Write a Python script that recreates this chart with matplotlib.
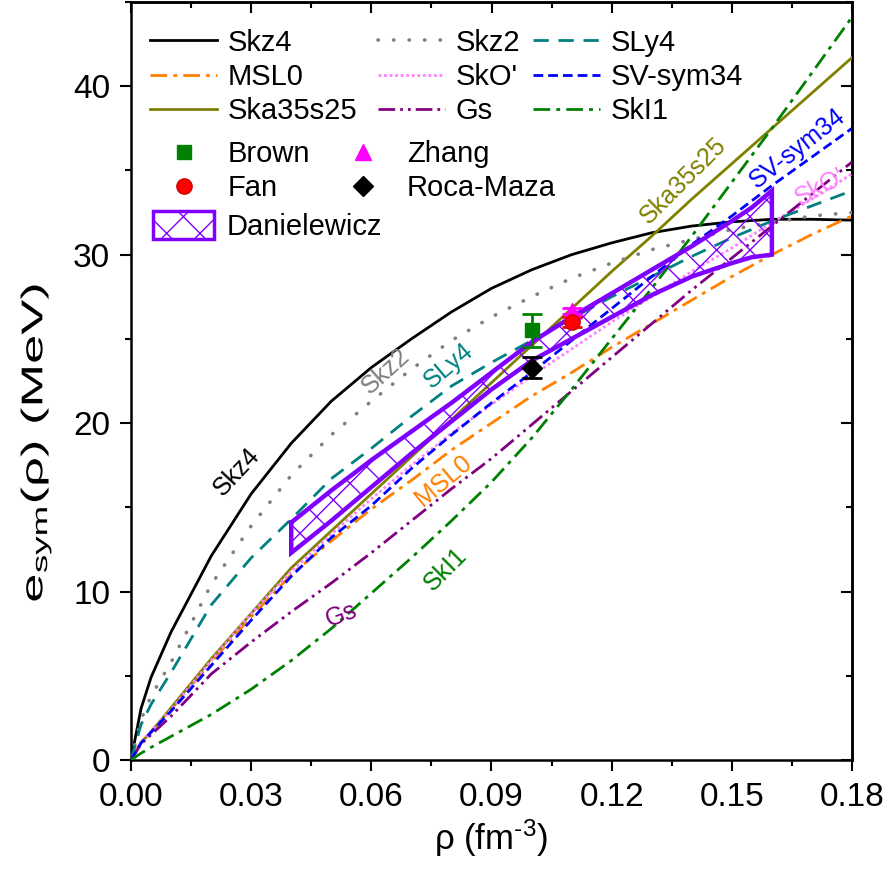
import matplotlib
matplotlib.use("Agg")
import matplotlib.pyplot as plt
from matplotlib.lines import Line2D
from matplotlib.patches import Patch, PathPatch
from matplotlib.textpath import TextPath
from matplotlib.font_manager import FontProperties
from matplotlib.transforms import Affine2D

# density grid (fm^-3) shared by all the model curves
RHO = [0.0, 0.0025, 0.005, 0.01, 0.02, 0.03, 0.04, 0.05, 0.06, 0.07, 0.08,
       0.09, 0.10, 0.11, 0.12, 0.13, 0.14, 0.15, 0.16, 0.17, 0.18]

SKZ4 = [0.0, 3.05, 4.9, 7.6, 12.1, 15.8, 18.8, 21.3, 23.3, 25.0, 26.6,
        28.0, 29.1, 30.0, 30.7, 31.3, 31.7, 31.95, 32.1, 32.1, 32.05]
SKZ2 = [0.0, 2.4, 3.8, 5.8, 10.4, 13.9, 16.9, 19.3, 21.3, 23.2, 24.9,
        26.3, 27.5, 28.6, 29.5, 30.3, 30.9, 31.5, 31.9, 32.3, 32.5]
SLY4 = [0.0, 2.1, 3.3, 5.2, 9.2, 12.0, 14.3, 16.7, 18.5, 20.4, 22.2,
        23.6, 24.9, 26.2, 27.5, 28.7, 29.9, 31.0, 32.0, 32.9, 33.8]
MSL0 = [0.0, 1.05, 1.7, 3.0, 5.8, 8.5, 11.0, 13.0, 14.9, 16.6, 18.4,
        20.0, 21.6, 23.0, 24.5, 25.9, 27.3, 28.7, 30.0, 31.2, 32.3]
SKO_P = [0.0, 1.05, 1.7, 3.0, 5.9, 8.7, 11.2, 13.4, 15.5, 17.5, 19.4,
         21.1, 22.8, 24.4, 26.0, 27.5, 29.0, 30.4, 31.9, 33.3, 34.8]
SV_SYM34 = [0.0, 1.0, 1.65, 2.9, 5.6, 8.3, 10.9, 13.2, 15.1, 17.3, 19.3,
            21.2, 23.0, 24.9, 26.8, 28.7, 30.6, 32.3, 34.1, 35.8, 37.5]
SKA35S25 = [0.0, 1.05, 1.65, 3.1, 6.0, 8.7, 11.4, 13.6, 15.8, 18.0, 20.2,
            22.4, 24.6, 26.8, 29.0, 31.1, 33.3, 35.4, 37.5, 39.6, 41.7]
GS = [0.0, 0.95, 1.5, 2.6, 5.1, 7.0, 8.8, 10.5, 12.3, 14.2, 16.1,
      17.9, 19.9, 21.9, 23.9, 25.9, 27.9, 29.8, 31.7, 33.6, 35.5]
SKI1 = [0.0, 0.4, 0.75, 1.4, 2.7, 4.2, 5.9, 7.8, 9.9, 12.0, 14.2,
        16.5, 19.1, 22.0, 25.0, 28.0, 31.1, 34.3, 37.5, 40.8, 44.1]

# Danielewicz constraint band
BAND_RHO = [0.04, 0.05, 0.06, 0.07, 0.08, 0.09, 0.10, 0.11, 0.12, 0.13,
            0.14, 0.15, 0.155, 0.16]
BAND_UP = [14.1, 16.0, 17.8, 19.5, 21.2, 23.0, 24.8, 26.3, 27.7, 29.1,
           30.5, 32.0, 32.8, 33.8]
BAND_LO = [12.3, 14.2, 16.2, 18.2, 20.1, 22.0, 23.7, 25.0, 26.3, 27.6,
           28.7, 29.5, 29.85, 30.0]

# experimental points: (rho, esym, error)
BROWN = (0.10, 25.5, 1.0)
ROCA_MAZA = (0.10, 23.3, 0.6)
FAN = (0.11, 26.0, 0.3)
ZHANG = (0.11, 26.65, 0.2)

XTICKS = [0.00, 0.03, 0.06, 0.09, 0.12, 0.15, 0.18]
XMINOR = [0.015, 0.045, 0.075, 0.105, 0.135, 0.165]
YTICKS = [0, 10, 20, 30, 40]
YMINOR = [5, 15, 25, 35, 45]

plt.rcParams["font.family"] = ["Liberation Sans", "DejaVu Sans"]
plt.rcParams["mathtext.fontset"] = "custom"
plt.rcParams["mathtext.rm"] = "Liberation Sans"
plt.rcParams["mathtext.it"] = "Liberation Sans:italic"
plt.rcParams["hatch.linewidth"] = 1.0

C_OLIVE = "#808000"
C_TEAL = "#008080"
C_ORANGE = "#FF8000"
C_PINK = "#FF80FF"
C_BLUE = "#0000FF"
C_PURPLE = "#800080"
C_GREEN = "#008000"
C_GRAY = "#808080"
C_VIOLET = "#8000FF"

fig = plt.figure(figsize=(8.91, 8.76), dpi=100)
ax = fig.add_axes([131 / 891, 116 / 876, 721 / 891, 758 / 876])

lw = 2.0
curves = {
    "Skz4": (SKZ4, "black", "-"),
    "MSL0": (MSL0, C_ORANGE, (0, (6, 2.2, 1.4, 2.2))),
    "Ska35s25": (SKA35S25, C_OLIVE, "-"),
    "Skz2": (SKZ2, C_GRAY, (0, (0.1, 4.2))),
    "SkO'": (SKO_P, C_PINK, (0, (1, 1))),
    "Gs": (GS, C_PURPLE, (0, (6, 1.8, 1, 1.8, 1, 1.8))),
    "SLy4": (SLY4, C_TEAL, (0, (5.5, 3.5))),
    "SV-sym34": (SV_SYM34, C_BLUE, (0, (3.5, 1.8))),
    "SkI1": (SKI1, C_GREEN, (0, (6, 2.2, 1.4, 2.2))),
}
handles = {}
for name, (vals, col, ls) in curves.items():
    w = 2.6 if name == "Skz2" else lw
    h, = ax.plot(RHO, vals, color=col, ls=ls, lw=w, label=name,
                 dash_capstyle="round" if name == "Skz2" else "butt", zorder=3)
    handles[name] = h

# band: hatched polygon with a thick outline
poly_x = BAND_RHO + BAND_RHO[::-1] + [BAND_RHO[0]]
poly_y = BAND_UP + BAND_LO[::-1] + [BAND_UP[0]]
ax.fill(poly_x, poly_y, facecolor="none", edgecolor=C_VIOLET, hatch="x",
        lw=0, zorder=4)
ax.plot(poly_x, poly_y, color=C_VIOLET, lw=3.2, solid_joinstyle="miter", zorder=5)

eb = dict(capsize=7, elinewidth=2, capthick=2, zorder=7)
ax.errorbar(BROWN[0], BROWN[1], yerr=BROWN[2], fmt="s", color=C_GREEN, ms=10, **eb)
ax.errorbar(ROCA_MAZA[0], ROCA_MAZA[1], yerr=ROCA_MAZA[2], fmt="D", color="black", ms=10, **eb)
ax.errorbar(ZHANG[0], ZHANG[1], yerr=ZHANG[2], fmt="^", color="#FF00FF", ms=11, **eb)
ax.errorbar(FAN[0], FAN[1], yerr=FAN[2], fmt="o", color="#FF0000", ms=11,
            mec="#CC0000", **eb)

# rotated curve labels
lbl = dict(fontsize=18, ha="center", va="center", zorder=8)
ax.text(0.0265, 17.1, "Skz4", color="black", rotation=47, **lbl)
ax.text(0.0637, 23.1, "Skz2", color=C_GRAY, rotation=42, **lbl)
ax.text(0.0792, 23.4, "SLy4", color=C_TEAL, rotation=40, **lbl)
ax.text(0.0780, 16.6, "MSL0", color=C_ORANGE, rotation=40, **lbl)
ax.text(0.0525, 8.6, "Gs", color=C_PURPLE, rotation=20, **lbl)
ax.text(0.0785, 11.3, "SkI1", color=C_GREEN, rotation=45, **lbl)
ax.text(0.1378, 34.4, "Ska35s25", color=C_OLIVE, rotation=45, **lbl)
ax.text(0.1663, 36.3, "SV-sym34", color=C_BLUE, rotation=38, **lbl)
ax.text(0.1720, 34.0, "SkO'", color=C_PINK, rotation=28, **lbl)

ax.set_xlim(0, 0.18)
ax.set_ylim(0, 45)
ax.set_xticks(XTICKS)
ax.set_xticklabels([f"{v:.2f}" for v in XTICKS], fontsize=24)
ax.set_xticks(XMINOR, minor=True)
ax.set_yticks(YTICKS)
ax.set_yticklabels([str(v) for v in YTICKS], fontsize=24)
ax.set_yticks(YMINOR, minor=True)

for sp in ax.spines.values():
    sp.set_linewidth(1.8)
ax.tick_params(which="major", direction="out", length=8, width=1.5)
ax.tick_params(axis="x", which="major", pad=8)
ax.tick_params(axis="y", which="major", pad=7)
ax.tick_params(which="minor", direction="out", length=4, width=1.5)

top = ax.secondary_xaxis("top")
top.set_xticks(XTICKS)
top.set_xticks(XMINOR, minor=True)
top.tick_params(which="major", direction="in", length=8, width=1.5, labeltop=False)
top.tick_params(which="minor", direction="in", length=4, width=1.5)
top.spines["top"].set_linewidth(1.8)
right = ax.secondary_yaxis("right")
right.set_yticks(YTICKS)
right.set_yticks(YMINOR, minor=True)
right.tick_params(which="major", direction="in", length=8, width=1.5, labelright=False)
right.tick_params(which="minor", direction="in", length=4, width=1.5)
right.spines["right"].set_linewidth(1.8)

ax.set_xlabel(r"ρ (fm$^{\text{-3}}$)", fontsize=25, labelpad=3)

# y title is drawn as a path so it can be stretched along its length
tp = TextPath((0, 0), r"e$_{\mathrm{sym}}$(ρ) (MeV)", size=30,
              prop=FontProperties(family="Liberation Sans"))
ext = tp.get_extents()
stretch = 315 / ext.width
ytitle_tr = (Affine2D()
             .translate(-(ext.x0 + ext.x1) / 2, -(ext.y0 + ext.y1) / 2)
             .scale(stretch, 1.0)
             .rotate_deg(90)
             .translate(36, 876 - 443))
fig.add_artist(PathPatch(tp, transform=ytitle_tr, facecolor="black", lw=0))

# legends: one per column so each column sits where the original has it
leg_kw = dict(frameon=False, fontsize=21, handlelength=2.3, handletextpad=0.35,
              borderpad=0, borderaxespad=0, labelspacing=0.22, loc="upper left")
cols = [(["Skz4", "MSL0", "Ska35s25"], 150),
        (["Skz2", "SkO'", "Gs"], 378),
        (["SLy4", "SV-sym34", "SkI1"], 533)]
for names, px in cols:
    lg = ax.legend(handles=[handles[n] for n in names],
                   bbox_to_anchor=((px - 131) / 721, 0.965), **leg_kw)
    ax.add_artist(lg)

pts = [
    Line2D([], [], ls="none", marker="s", color=C_GREEN, ms=10, label="Brown"),
    Line2D([], [], ls="none", marker="o", color="#FF0000", mec="#CC0000", ms=11, label="Fan"),
    Line2D([], [], ls="none", marker="^", color="#FF00FF", ms=11, label="Zhang"),
    Line2D([], [], ls="none", marker="D", color="black", ms=10, label="Roca-Maza"),
]
leg2 = ax.legend(handles=pts, ncol=2, numpoints=1, columnspacing=0.68,
                 bbox_to_anchor=((150 - 131) / 721, 0.818), **leg_kw)
ax.add_artist(leg2)

band_h = Patch(facecolor="white", edgecolor=C_VIOLET, hatch="x", lw=2.5, label="Danielewicz")
ax.legend(handles=[band_h], loc="upper left", bbox_to_anchor=(0.030, 0.724),
          handleheight=1.1, frameon=False, fontsize=21, handlelength=2.1,
          handletextpad=0.42, borderpad=0, borderaxespad=0)

fig.savefig("out.png", dpi=100)
